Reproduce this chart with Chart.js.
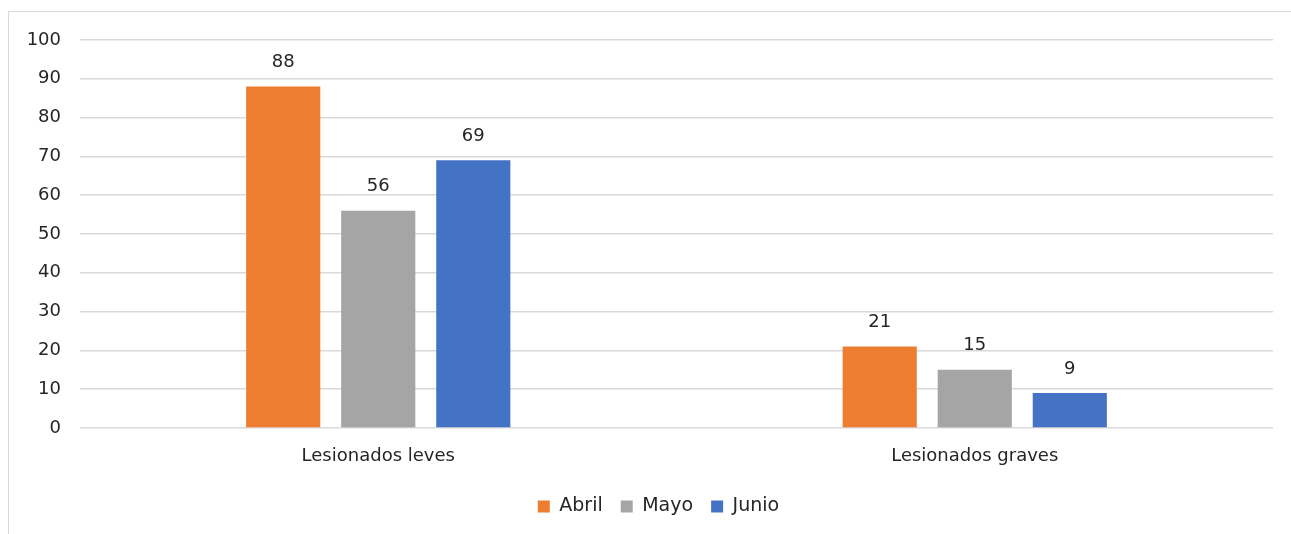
<!DOCTYPE html>
<html>
<head>
<meta charset="utf-8">
<script src="https://cdn.jsdelivr.net/npm/chart.js@4/dist/chart.umd.min.js"></script>
<style>
  html, body { margin: 0; padding: 0; background: #fff; overflow: hidden; }
  #frame { position: absolute; left: 8px; top: 11px; width: 1300px; height: 540px; border: 1px solid #d9d9d9; }
  #chart { position: absolute; left: 0; top: 0; }
</style>
</head>
<body>
<div id="frame"></div>
<canvas id="chart" width="1291" height="534"></canvas>
<script>
const categories = ["Lesionados leves", "Lesionados graves"];
const months = ["Abril", "Mayo", "Junio"];
const abril = [88, 21];
const mayo = [56, 15];
const junio = [69, 9];
const yTicks = [0, 10, 20, 30, 40, 50, 60, 70, 80, 90, 100];

const colors = ["#ed7d31", "#a5a5a5", "#4472c4"];
const fontFamily = "'DejaVu Sans', sans-serif";

// value labels above each bar
const valueLabels = {
  id: "valueLabels",
  afterDatasetsDraw(chart) {
    const ctx = chart.ctx;
    ctx.save();
    ctx.font = "18px " + fontFamily;
    ctx.fillStyle = "#262626";
    ctx.textAlign = "center";
    ctx.textBaseline = "middle";
    chart.data.datasets.forEach(function (ds, i) {
      chart.getDatasetMeta(i).data.forEach(function (bar, j) {
        ctx.fillText(ds.data[j], bar.x, bar.y - 24);
      });
    });
    ctx.restore();
  }
};

// nudge the legend a bit right and up, like the original
const legendShift = {
  id: "legendShift",
  afterLayout(chart) {
    chart.legend.left += 22;
    chart.legend.right += 22;
    chart.legend.top -= 7;
    chart.legend.bottom -= 7;
  }
};

new Chart(document.getElementById("chart").getContext("2d"), {
  type: "bar",
  data: {
    labels: categories,
    datasets: [
      { label: months[0], data: abril, backgroundColor: colors[0] },
      { label: months[1], data: mayo, backgroundColor: colors[1] },
      { label: months[2], data: junio, backgroundColor: colors[2] }
    ]
  },
  options: {
    responsive: false,
    animation: false,
    datasets: { bar: { categoryPercentage: 0.478, barPercentage: 0.78 } },
    layout: { padding: { left: 0, right: 18, top: 40, bottom: 1 } },
    scales: {
      x: {
        grid: { display: false },
        border: { display: false },
        ticks: { color: "#262626", font: { family: fontFamily, size: 18 }, padding: 10 },
        afterFit(scale) { scale.height = 58; }
      },
      y: {
        min: 0,
        max: 100,
        afterBuildTicks(scale) { scale.ticks = yTicks.map(v => ({ value: v })); },
        grid: { color: "#d9d9d9", lineWidth: 1.5, drawTicks: false },
        border: { display: false },
        ticks: { color: "#262626", font: { family: fontFamily, size: 18 }, padding: 19 },
        afterFit(scale) { scale.width = 80; }
      }
    },
    plugins: {
      legend: {
        position: "bottom",
        labels: {
          color: "#262626",
          font: { family: fontFamily, size: 19 },
          boxWidth: 12,
          boxHeight: 12,
          padding: 18
        }
      },
      tooltip: { enabled: false }
    }
  },
  plugins: [valueLabels, legendShift]
});
</script>
</body>
</html>
